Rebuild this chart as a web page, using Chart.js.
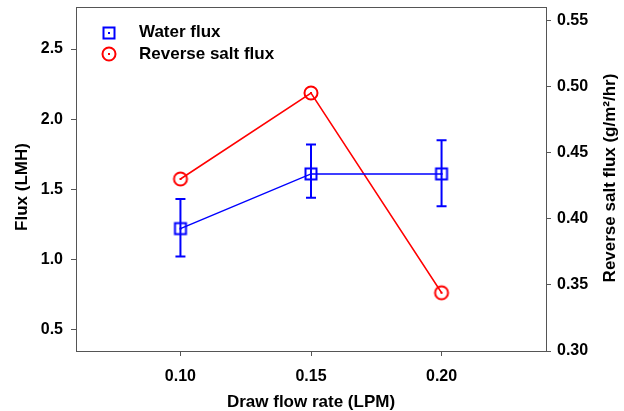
<!DOCTYPE html>
<html>
<head>
<meta charset="utf-8">
<script src="https://cdn.jsdelivr.net/npm/chart.js@4.4.1/dist/chart.umd.min.js"></script>
<style>
  html, body { margin: 0; padding: 0; background: #fff; }
  #wrap { width: 624px; height: 411px; }
</style>
</head>
<body>
<div id="wrap"><canvas id="chart" width="624" height="411"></canvas></div>
<script>
// data
const flowRates = [0.10, 0.15, 0.20];
const waterFlux = [1.22, 1.61, 1.61];
const waterFluxErr = [0.21, 0.21, 0.24];
const waterFluxErrLow = [0.20, 0.17, 0.23];
const saltFlux = [0.430, 0.495, 0.344];

const xTicks = [0.10, 0.15, 0.20];
const leftTicks = [0.5, 1.0, 1.5, 2.0, 2.5];
const rightTicks = [0.30, 0.35, 0.40, 0.45, 0.50, 0.55];

const BLUE = '#0000ff';
const RED = '#ff0000';
const AXIS = '#555555';
const FONT = '"Liberation Sans", Arial, sans-serif';

function squareMarker() {
  const c = document.createElement('canvas');
  c.width = 16; c.height = 16;
  const g = c.getContext('2d');
  g.strokeStyle = BLUE; g.lineWidth = 2;
  g.strokeRect(2.5, 2.5, 11, 11);
  g.fillStyle = BLUE;
  g.fillRect(7, 7, 2, 2);
  return c;
}

function circleMarker() {
  const c = document.createElement('canvas');
  c.width = 18; c.height = 18;
  const g = c.getContext('2d');
  g.strokeStyle = RED; g.lineWidth = 2;
  g.beginPath(); g.arc(9, 9, 6.5, 0, Math.PI * 2); g.stroke();
  g.fillStyle = RED;
  g.fillRect(8, 8, 2, 2);
  return c;
}

const sq = squareMarker();
const ci = circleMarker();

// error bars on the water flux series
const errorBars = {
  id: 'errorBars',
  beforeDatasetsDraw(chart) {
    const ctx = chart.ctx;
    const x = chart.scales.x, y = chart.scales.y;
    ctx.save();
    ctx.strokeStyle = BLUE;
    ctx.lineWidth = 2;
    flowRates.forEach((f, i) => {
      const px = x.getPixelForValue(f);
      const top = y.getPixelForValue(waterFlux[i] + waterFluxErr[i]);
      const bot = y.getPixelForValue(waterFlux[i] - waterFluxErrLow[i]);
      ctx.beginPath();
      ctx.moveTo(px, top); ctx.lineTo(px, bot);
      ctx.moveTo(px - 5, top); ctx.lineTo(px + 5, top);
      ctx.moveTo(px - 5, bot); ctx.lineTo(px + 5, bot);
      ctx.stroke();
    });
    ctx.restore();
  }
};

// top frame line, axis titles and inside legend
const decorations = {
  id: 'decorations',
  afterDraw(chart) {
    const ctx = chart.ctx;
    const a = chart.chartArea;
    ctx.save();
    ctx.strokeStyle = AXIS;
    ctx.lineWidth = 1;
    ctx.beginPath();
    ctx.moveTo(a.left, a.top + 0.5);
    ctx.lineTo(a.right, a.top + 0.5);
    ctx.stroke();

    ctx.fillStyle = '#000';
    ctx.font = 'bold 17px ' + FONT;
    ctx.textAlign = 'center';
    ctx.textBaseline = 'middle';
    ctx.fillText('Draw flow rate (LPM)', (a.left + a.right) / 2, 402);

    ctx.save();
    ctx.translate(22, 187);
    ctx.rotate(-Math.PI / 2);
    ctx.fillText('Flux (LMH)', 0, 0);
    ctx.restore();

    ctx.save();
    ctx.translate(610, 178);
    ctx.rotate(-Math.PI / 2);
    ctx.fillText('Reverse salt flux (g/m\u00B2/hr)', 0, 0);
    ctx.restore();

    ctx.textAlign = 'left';
    ctx.drawImage(sq, 109 - 8, 33 - 8);
    ctx.fillText('Water flux', 139, 32);
    ctx.drawImage(ci, 109 - 9, 54 - 9);
    ctx.fillText('Reverse salt flux', 139, 54);
    ctx.restore();
  }
};

const fixTicks = list => scale => { scale.ticks = list.map(v => ({ value: v })); };
const fixWidth = w => s => { s.width = w; s.paddingTop = 0; s.paddingBottom = 0; };

new Chart(document.getElementById('chart'), {
  type: 'line',
  data: {
    datasets: [
      {
        label: 'Water flux',
        data: flowRates.map((f, i) => ({ x: f, y: waterFlux[i] })),
        yAxisID: 'y',
        borderColor: BLUE,
        borderWidth: 1.5,
        pointStyle: sq,
        pointRadius: 8,
        fill: false
      },
      {
        label: 'Reverse salt flux',
        data: flowRates.map((f, i) => ({ x: f, y: saltFlux[i] })),
        yAxisID: 'y2',
        borderColor: RED,
        borderWidth: 1.5,
        pointStyle: ci,
        pointRadius: 9,
        fill: false
      }
    ]
  },
  options: {
    responsive: false,
    animation: false,
    layout: { autoPadding: false, padding: { top: 7 } },
    plugins: { legend: { display: false }, tooltip: { enabled: false } },
    scales: {
      x: {
        type: 'linear',
        min: 0.06, max: 0.24,
        afterBuildTicks: fixTicks(xTicks),
        afterFit: s => { s.height = 60; s.paddingLeft = 0; s.paddingRight = 0; },
        grid: { drawOnChartArea: false, tickLength: 5, color: AXIS },
        border: { color: AXIS, width: 1 },
        ticks: {
          color: '#000', padding: 11,
          font: { family: FONT, size: 16, weight: 'bold' },
          callback: v => v.toFixed(2)
        }
      },
      y: {
        position: 'left',
        min: 0.347, max: 2.80,
        afterBuildTicks: fixTicks(leftTicks),
        afterFit: fixWidth(76),
        grid: { drawOnChartArea: false, tickLength: 5, color: AXIS },
        border: { color: AXIS, width: 1 },
        ticks: {
          color: '#000', padding: 8,
          font: { family: FONT, size: 16, weight: 'bold' },
          callback: v => v.toFixed(1)
        }
      },
      y2: {
        position: 'right',
        min: 0.30, max: 0.56,
        afterBuildTicks: fixTicks(rightTicks),
        afterFit: fixWidth(78),
        grid: { drawOnChartArea: false, tickLength: 5, color: AXIS },
        border: { color: AXIS, width: 1 },
        ticks: {
          color: '#000', padding: 6,
          font: { family: FONT, size: 16, weight: 'bold' },
          callback: v => v.toFixed(2)
        }
      }
    }
  },
  plugins: [errorBars, decorations]
});
</script>
</body>
</html>
